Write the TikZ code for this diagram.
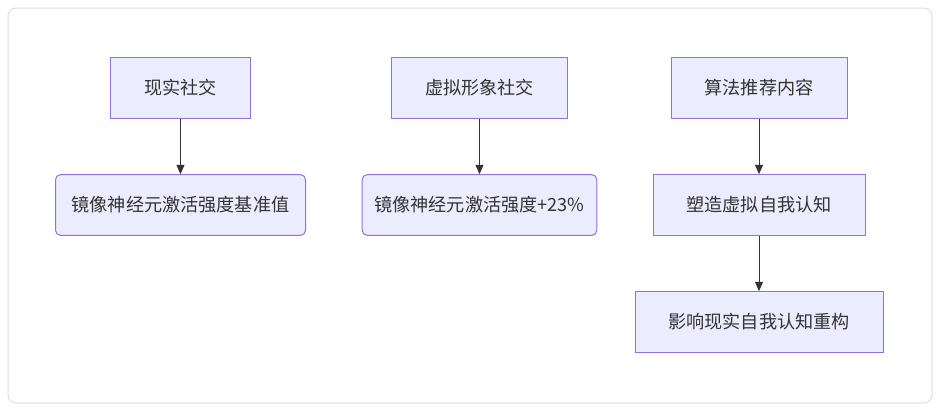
\documentclass[tikz,border=0pt]{standalone}
\usepackage{fontspec}
\setmainfont{Noto Sans CJK SC}
\usetikzlibrary{arrows.meta}
\definecolor{boxfill}{HTML}{ECECFF}
\definecolor{boxline}{HTML}{9370DB}
\definecolor{txt}{HTML}{333333}
\definecolor{frame}{HTML}{DDDDDD}

\begin{document}
\begin{tikzpicture}[x=0.75pt,y=-0.75pt,
  box/.style={draw=boxline,fill=boxfill,line width=0.75pt,text=txt,
    font=\fontsize{13.6pt}{16pt}\selectfont,minimum height=45.5pt,inner sep=0pt},
  rbox/.style={box,rounded corners=3.75pt},
  link/.style={draw=txt,line width=0.75pt,-{Triangle[length=7pt,width=6pt]}}]

\useasboundingbox (0,0) rectangle (942,411);
\draw[frame,line width=0.75pt,rounded corners=6pt] (8,8) rectangle (932,403);

\node[box,minimum width=105pt] (real) at (180.5,88) {现实社交};
\node[rbox,minimum width=187.5pt] (realval) at (180.5,205) {镜像神经元激活强度基准值};

\node[box,minimum width=132pt] (virt) at (479.5,88) {虚拟形象社交};
\node[rbox,minimum width=176pt] (virtval) at (479.5,205) {镜像神经元激活强度+23\%};

\node[box,minimum width=132pt] (algo) at (759,88) {算法推荐内容};
\node[box,minimum width=159pt] (shape) at (759,205) {塑造虚拟自我认知};
\node[box,minimum width=186pt] (recon) at (759,322) {影响现实自我认知重构};

\draw[link] (real) -- (realval);
\draw[link] (virt) -- (virtval);
\draw[link] (algo) -- (shape);
\draw[link] (shape) -- (recon);

\end{tikzpicture}
\end{document}
